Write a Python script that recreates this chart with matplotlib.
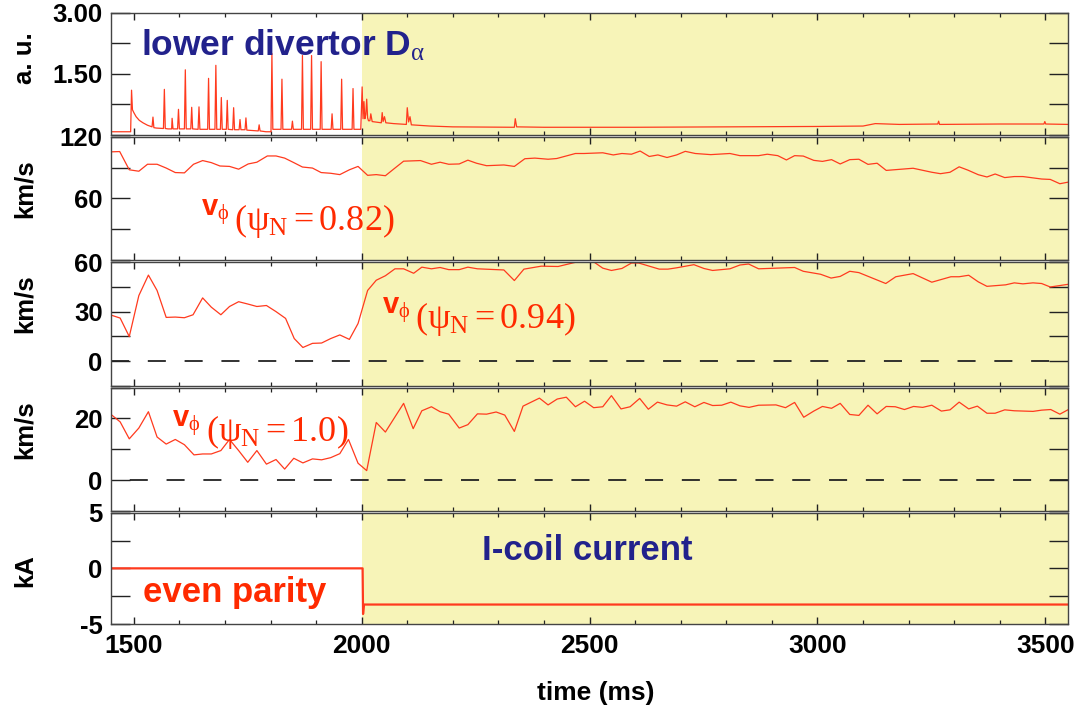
import matplotlib
matplotlib.use('Agg')
import matplotlib.pyplot as plt
from matplotlib.ticker import MultipleLocator, FixedLocator, FixedFormatter

plt.rcParams['font.family'] = ['Liberation Sans', 'DejaVu Sans']
plt.rcParams['font.weight'] = 'bold'
plt.rcParams['mathtext.fontset'] = 'custom'
plt.rcParams['mathtext.rm'] = 'Liberation Serif:weight=normal'
plt.rcParams['mathtext.it'] = 'Liberation Serif:italic:weight=normal'
plt.rcParams['mathtext.bf'] = 'Liberation Sans:weight=bold'
plt.rcParams['mathtext.sf'] = 'Liberation Sans:weight=normal'
plt.rcParams['lines.scale_dashes'] = False

# ---- data (time in ms) ----
# lower divertor D-alpha (a.u.)
dalpha = [
    (1450, 0.08), (1493, 0.08), (1495, 1.10), (1497, 0.62), (1500, 0.55), (1505, 0.45),
    (1512, 0.36), (1520, 0.30), (1530, 0.24), (1540, 0.20), (1542, 0.44), (1544, 0.18),
    (1550, 0.17), (1565, 0.16), (1567, 1.12), (1569, 0.16), (1575, 0.15), (1583, 0.15),
    (1584, 0.41), (1586, 0.15), (1596, 0.15), (1598, 0.63), (1600, 0.15), (1611, 0.15),
    (1613, 1.60), (1615, 0.15), (1625, 0.15), (1627, 0.68), (1629, 0.15), (1641, 0.14),
    (1643, 0.69), (1645, 0.14), (1662, 0.14), (1664, 1.39), (1666, 0.14), (1678, 0.14),
    (1680, 1.71), (1682, 0.14), (1690, 0.14), (1692, 0.92), (1694, 0.14), (1703, 0.14),
    (1705, 0.85), (1707, 0.14), (1717, 0.13), (1719, 0.67), (1721, 0.13), (1731, 0.13),
    (1733, 0.38), (1735, 0.13), (1744, 0.13), (1746, 0.42), (1748, 0.12), (1773, 0.10),
    (1775, 0.25), (1777, 0.10), (1790, 0.08), (1801, 0.08), (1803, 2.00), (1805, 0.14),
    (1823, 0.14), (1825, 1.37), (1827, 0.14), (1846, 0.14), (1848, 0.34), (1850, 0.14),
    (1868, 0.14), (1870, 1.95), (1872, 0.14), (1888, 0.14), (1890, 1.95), (1892, 0.14),
    (1909, 0.14), (1911, 1.80), (1913, 0.14), (1933, 0.14), (1935, 0.52), (1937, 0.14),
    (1954, 0.14), (1956, 1.37), (1958, 0.14), (1979, 0.14), (1981, 1.14), (1983, 0.14),
    (1998, 0.14), (2001, 1.18), (2003, 0.40), (2005, 0.82), (2007, 0.40), (2009, 0.50),
    (2011, 0.88), (2013, 0.42), (2015, 0.35), (2018, 0.35), (2020, 0.52), (2023, 0.33),
    (2030, 0.32), (2043, 0.30), (2045, 0.55), (2047, 0.33), (2050, 0.45), (2053, 0.30),
    (2070, 0.28), (2098, 0.26), (2100, 0.67), (2103, 0.32), (2106, 0.45), (2109, 0.25),
    (2150, 0.22), (2200, 0.20), (2335, 0.19), (2337, 0.40), (2340, 0.20), (2400, 0.19),
    (2500, 0.19), (2600, 0.19), (2800, 0.20), (3000, 0.21), (3100, 0.22), (3127, 0.28),
    (3180, 0.26), (3264, 0.27), (3266, 0.34), (3268, 0.26), (3400, 0.27), (3497, 0.27),
    (3499, 0.33), (3501, 0.27), (3550, 0.26),
]

# toroidal rotation at psi_N = 0.82 (km/s)
v082 = [
    (1450, 105.5), (1469, 105.8), (1490, 88.0), (1511, 86.6), (1530, 93.4), (1551, 93.4),
    (1571, 89.7), (1591, 85.3), (1611, 85.0), (1631, 93.4), (1651, 97.0), (1670, 95.0),
    (1689, 91.7), (1710, 91.3), (1730, 88.6), (1751, 93.7), (1770, 95.4), (1793, 101.5),
    (1812, 101.5), (1831, 99.4), (1851, 95.0), (1870, 90.7), (1892, 89.7), (1911, 85.3),
    (1932, 84.6), (1952, 83.3), (1973, 88.0), (1992, 91.3), (2013, 82.6), (2032, 83.3),
    (2052, 82.2), (2073, 89.7), (2092, 96.4), (2129, 97.0), (2153, 93.4), (2172, 95.4),
    (2191, 93.4), (2214, 93.7), (2233, 97.4), (2252, 94.4), (2274, 92.0), (2312, 92.7),
    (2335, 91.3), (2358, 98.8), (2380, 99.4), (2409, 98.3), (2428, 99.0), (2469, 103.9),
    (2488, 103.9), (2529, 104.6), (2552, 102.5), (2571, 103.9), (2592, 103.2), (2611, 106.3),
    (2631, 101.0), (2650, 102.5), (2670, 100.0), (2691, 102.5), (2710, 106.0), (2732, 103.9),
    (2766, 102.8), (2808, 103.9), (2830, 101.8), (2871, 101.8), (2890, 103.2), (2913, 101.8),
    (2932, 97.6), (2950, 101.8), (2969, 101.4), (2992, 97.2), (3011, 96.2), (3031, 97.9),
    (3050, 93.7), (3071, 97.9), (3091, 98.3), (3111, 93.3), (3131, 94.4), (3151, 87.4),
    (3210, 89.5), (3251, 85.6), (3270, 84.2), (3291, 85.6), (3311, 90.9), (3330, 87.7),
    (3353, 83.2), (3372, 81.0), (3390, 83.9), (3411, 80.4), (3432, 81.4), (3451, 81.4),
    (3492, 79.0), (3511, 78.6), (3532, 74.4), (3552, 76.1),
]

# toroidal rotation at psi_N = 0.94 (km/s)
v094 = [
    (1450, 27.9), (1470, 26.1), (1490, 14.9), (1511, 39.7), (1532, 52.1), (1551, 42.8),
    (1571, 26.5), (1591, 26.7), (1611, 26.3), (1630, 28.1), (1651, 38.3), (1670, 32.7),
    (1691, 28.1), (1710, 33.1), (1730, 36.0), (1750, 34.6), (1770, 33.1), (1791, 33.7),
    (1812, 30.0), (1833, 25.9), (1852, 13.7), (1871, 8.3), (1892, 10.8), (1912, 11.0),
    (1932, 13.7), (1952, 15.9), (1973, 13.2), (1992, 22.8), (2013, 42.8), (2032, 49.0),
    (2052, 51.7), (2073, 55.9), (2092, 55.9), (2114, 53.2), (2132, 56.9), (2153, 55.9),
    (2172, 56.7), (2191, 55.4), (2214, 55.4), (2233, 56.9), (2254, 55.9), (2312, 55.2),
    (2335, 48.8), (2356, 55.7), (2394, 57.5), (2431, 57.3), (2479, 60.5), (2507, 60.5),
    (2529, 56.3), (2548, 54.9), (2571, 56.1), (2592, 59.4), (2608, 59.4), (2631, 57.5),
    (2653, 55.7), (2672, 55.7), (2691, 56.5), (2729, 58.4), (2751, 56.1), (2770, 54.9),
    (2808, 55.9), (2830, 58.2), (2849, 58.8), (2871, 55.9), (2950, 56.7), (2969, 54.4),
    (3007, 52.6), (3030, 50.3), (3050, 51.3), (3071, 54.4), (3091, 53.6), (3150, 47.0),
    (3172, 51.1), (3210, 53.0), (3251, 47.8), (3293, 51.1), (3311, 51.1), (3332, 52.0),
    (3353, 48.0), (3372, 45.3), (3413, 46.2), (3432, 47.4), (3451, 46.8), (3473, 47.4),
    (3492, 47.0), (3511, 44.9), (3552, 46.6),
]

# toroidal rotation at psi_N = 1.0 (km/s)
v100 = [
    (1450, 21.3), (1470, 18.9), (1490, 13.4), (1511, 16.9), (1532, 22.2), (1551, 14.0),
    (1571, 11.7), (1591, 13.2), (1611, 11.5), (1632, 8.2), (1651, 8.5), (1670, 8.5),
    (1691, 9.6), (1710, 13.2), (1730, 9.6), (1750, 5.8), (1770, 9.6), (1791, 5.2),
    (1812, 6.7), (1831, 3.6), (1851, 7.1), (1871, 5.6), (1892, 6.9), (1912, 6.6),
    (1932, 7.3), (1952, 8.6), (1971, 13.2), (1992, 5.5), (2011, 3.1), (2032, 18.7),
    (2052, 15.6), (2073, 20.5), (2092, 24.9), (2113, 16.7), (2132, 22.5), (2153, 23.8),
    (2172, 22.2), (2191, 21.4), (2214, 16.9), (2233, 18.0), (2254, 21.5), (2274, 21.4),
    (2295, 22.1), (2314, 21.1), (2335, 15.8), (2354, 24.0), (2390, 26.6), (2409, 24.4),
    (2429, 26.3), (2449, 26.9), (2469, 23.8), (2489, 25.6), (2509, 23.5), (2529, 23.8),
    (2548, 27.4), (2569, 23.1), (2589, 23.8), (2610, 26.5), (2629, 23.0), (2649, 25.3),
    (2670, 24.4), (2691, 24.0), (2710, 25.4), (2731, 23.8), (2751, 25.2), (2770, 24.2),
    (2790, 24.3), (2810, 25.3), (2830, 24.1), (2850, 23.6), (2871, 24.3), (2909, 24.4),
    (2930, 23.5), (2950, 25.2), (2970, 20.4), (2992, 22.4), (3011, 23.9), (3031, 23.3),
    (3050, 24.9), (3071, 21.3), (3091, 21.0), (3111, 24.3), (3131, 21.5), (3151, 23.9),
    (3171, 23.8), (3191, 22.9), (3211, 23.9), (3231, 23.6), (3251, 24.3), (3272, 22.4),
    (3291, 22.8), (3311, 25.3), (3332, 23.1), (3351, 24.0), (3372, 21.7), (3390, 21.7),
    (3411, 22.8), (3432, 22.5), (3473, 22.3), (3492, 22.7), (3512, 22.9), (3532, 21.4),
    (3552, 23.0),
]

# I-coil current (kA)
icoil = [(1450, 0.0), (2002, 0.0), (2003, -4.1), (2005, -3.25), (3550, -3.25)]

coil_on = 2000
xlim = (1450, 3550)

RED = '#ff3a1e'
TXT_RED = '#ff2a00'
NAVY = '#22228c'
YELLOW = '#f7f4b8'
FRAME = '#444444'

# (ylim, major step, labelled ticks, y label)
panels = [
    ((0, 3.0), 0.75, {1.5: '1.50', 3.0: '3.00'}, 'a. u.'),
    ((0, 120), 30, {60: '60', 120: '120'}, 'km/s'),
    ((-15, 60), 15, {0: '0', 30: '30', 60: '60'}, 'km/s'),
    ((-10, 30), 10, {0: '0', 20: '20'}, 'km/s'),
    ((-5, 5), 2.5, {-5: '-5', 0: '0', 5: '5'}, 'kA'),
]
# axes rectangles in figure fraction
rects = [
    (0.1031, 0.8093, 0.8886, 0.1727),
    (0.1031, 0.6328, 0.8886, 0.1737),
    (0.1031, 0.4548, 0.8886, 0.1751),
    (0.1031, 0.2782, 0.8886, 0.1743),
    (0.1031, 0.1186, 0.8886, 0.1573),
]
ylabel_pos = [58, 189, 304, 430, 571]  # pixel rows of the y label centres

fig = plt.figure(figsize=(10.77, 7.08), dpi=100)
axes = []
for i, (rect, (ylim, step, labels, ylab)) in enumerate(zip(rects, panels)):
    ax = fig.add_axes(rect)
    ax.set_xlim(*xlim)
    ax.set_ylim(*ylim)
    ax.axvspan(coil_on, xlim[1] + 50, color=YELLOW, zorder=0, lw=0)

    ticks = []
    v = ylim[0]
    while v <= ylim[1] + 1e-9:
        ticks.append(round(v, 4))
        v += step
    ax.yaxis.set_major_locator(FixedLocator(ticks))
    ax.yaxis.set_major_formatter(FixedFormatter([labels.get(t, '') for t in ticks]))
    ax.xaxis.set_major_locator(MultipleLocator(500))
    ax.xaxis.set_minor_locator(MultipleLocator(100))
    ax.tick_params(axis='y', which='major', direction='in', length=13.5, width=1.0,
                   left=True, right=True, labelsize=18.5, pad=6, color='#222222')
    ax.tick_params(axis='x', which='major', direction='in', length=5, width=1.0,
                   top=True, bottom=True, labelsize=19, pad=7.5, color='#222222')
    ax.tick_params(axis='x', which='minor', direction='in', length=3, width=0.9,
                   top=True, bottom=True, color='#222222')
    if i < 4:
        ax.tick_params(axis='x', labelbottom=False)
    for s in ax.spines.values():
        s.set_color(FRAME)
        s.set_linewidth(1.0)
    for lab in ax.get_yticklabels() + ax.get_xticklabels():
        lab.set_fontweight('bold')
    fig.text(25 / 1077, 1 - ylabel_pos[i] / 708, ylab, rotation=90, ha='center',
             va='center', fontsize=18.5, fontweight='bold')
    axes.append(ax)

ax1, ax2, ax3, ax4, ax5 = axes

t, v = zip(*dalpha)
ax1.plot(t, v, color=RED, lw=0.9)
t, v = zip(*v082)
ax2.plot(t, v, color=RED, lw=0.9)
t, v = zip(*v094)
ax3.plot(t, v, color=RED, lw=0.9)
t, v = zip(*v100)
ax4.plot(t, v, color=RED, lw=0.9)
t, v = zip(*icoil)
ax5.plot(t, v, color=RED, lw=1.6)

# dashed zero lines
ax3.axhline(0, color='#222222', lw=1.3, ls=(0, (13, 13.5)), zorder=1)
ax4.axhline(0, color='#222222', lw=1.3, ls=(13, (13, 13.5)), zorder=1)

fig.text(596 / 1077, 1 - 693 / 708, 'time (ms)', ha='center', va='center',
         fontsize=19, fontweight='bold')

# annotations
ax1.text(0.031, 0.646, r'lower divertor D$_{\mathrm{\alpha}}$', transform=ax1.transAxes,
         color=NAVY, fontsize=25.5, fontweight='bold', va='baseline', ha='left')
ax5.text(0.388, 0.576, 'I-coil current', transform=ax5.transAxes,
         color=NAVY, fontsize=25, fontweight='bold', va='baseline', ha='left')
ax5.text(0.033, 0.20, 'even parity', transform=ax5.transAxes,
         color=TXT_RED, fontsize=25, fontweight='bold', va='baseline', ha='left')

vlabels = [(ax2, 0.094, 0.363, '0.82'), (ax3, 0.283, 0.585, '0.94'), (ax4, 0.064, 0.685, '1.0')]
for ax, x, y, psi in vlabels:
    head = ax.text(x, y, r'$\mathbf{v}_{\mathrm{\phi}}$', transform=ax.transAxes,
                   color=TXT_RED, fontsize=21, va='baseline', ha='left')
    ax.annotate(r'$(\mathrm{\psi}_{\mathrm{N}} = \mathrm{%s})$' % psi, xy=(1, 0),
                xycoords=head, xytext=(5, -3), textcoords='offset pixels',
                color=TXT_RED, fontsize=26, va='baseline', ha='left')

fig.savefig('out.png', dpi=100)
